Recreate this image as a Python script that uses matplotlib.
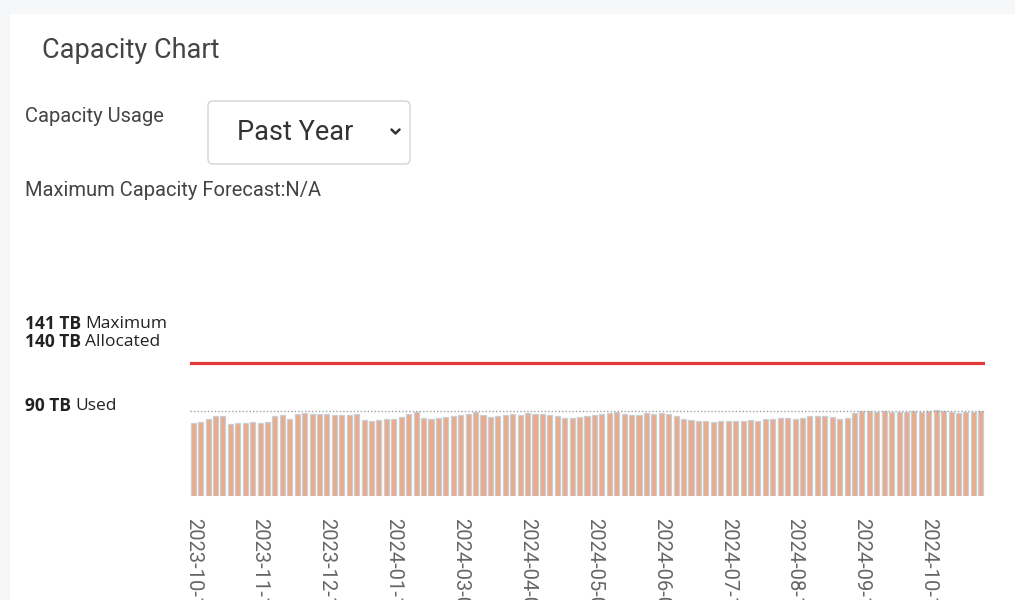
import matplotlib
matplotlib.use('Agg')
import matplotlib.pyplot as plt
from matplotlib.patches import FancyBboxPatch, Rectangle
from matplotlib.lines import Line2D

# usage per sample (TB)
used_tb = [76.8, 77.9, 81.1, 84.2, 84.2, 75.8, 76.8, 76.8, 77.9, 76.8,
           77.9, 84.2, 85.3, 81.1, 86.3, 87.4, 86.3, 86.3, 86.3, 85.3,
           85.3, 85.3, 86.3, 80.0, 78.9, 80.0, 81.1, 81.1, 83.2, 86.3,
           88.4, 82.1, 81.1, 82.1, 83.2, 84.2, 85.3, 86.3, 88.4, 85.3,
           83.2, 84.2, 85.3, 86.3, 85.3, 87.4, 86.3, 86.3, 85.3, 84.2,
           82.1, 82.1, 83.2, 84.2, 85.3, 86.3, 87.4, 88.4, 86.3, 85.3,
           85.3, 87.4, 86.3, 87.4, 86.3, 84.2, 81.1, 80.0, 78.9, 78.9,
           77.9, 78.9, 78.9, 78.9, 78.9, 80.0, 78.9, 81.1, 81.1, 82.1,
           82.1, 81.1, 82.1, 84.2, 84.2, 84.2, 83.2, 81.1, 82.1, 87.4,
           89.5, 89.5, 88.4, 89.5, 88.4, 88.4, 88.4, 89.5, 88.4, 89.5,
           90.5, 89.5, 88.4, 87.4, 88.4, 88.4, 89.5]
allocated_tb = 140
maximum_tb = 141
used_now_tb = 90
tick_every = 9
tick_labels = ['2023-10-13', '2023-11-14', '2023-12-16', '2024-01-17',
               '2024-03-04', '2024-04-05', '2024-05-07', '2024-06-08',
               '2024-07-10', '2024-08-11', '2024-09-12', '2024-10-14']

W, H = 1015, 600
fig = plt.figure(figsize=(W / 100, H / 100), dpi=100, facecolor='#f6f7f8')

# page overlay in pixel coordinates
ui = fig.add_axes([0, 0, 1, 1])
ui.set_xlim(0, W)
ui.set_ylim(H, 0)
ui.axis('off')
ui.add_patch(Rectangle((10, 14), W, H, facecolor='white', edgecolor='none'))

ui.text(42, 51, 'Capacity Chart', fontsize=19.5, family='Roboto', color='#444444',
        ha='left', va='center')
ui.text(25, 117, 'Capacity Usage', fontsize=14.5, family='Roboto', color='#444444',
        ha='left', va='center')
ui.add_patch(FancyBboxPatch((208, 101), 202, 63, boxstyle='round,pad=0,rounding_size=5',
                            facecolor='white', edgecolor='#d4d4d4', linewidth=1))
ui.text(237, 133, 'Past Year', fontsize=19.5, family='Roboto', color='#333333',
        ha='left', va='center')
ui.add_line(Line2D([391.5, 395.5, 399.5], [129.5, 133.5, 129.5], color='#333333',
                   linewidth=1.8, solid_capstyle='round'))
ui.text(25, 190, 'Maximum Capacity Forecast:N/A', fontsize=14.5, family='Roboto',
        color='#444444', ha='left', va='center')

fig.canvas.draw()
renderer = fig.canvas.get_renderer()


def label(y, num, word):
    t = ui.text(25, y, num, fontsize=12.5, family='Open Sans', fontweight='bold',
                color='#222222', ha='left', va='center')
    bb = t.get_window_extent(renderer=renderer)
    ui.text(bb.x1 + 4, y, word, fontsize=12.5, family='Open Sans', color='#222222',
            ha='left', va='center')


label(324, f'{maximum_tb} TB', 'Maximum')
label(342, f'{allocated_tb} TB', 'Allocated')
label(406, f'{used_now_tb} TB', 'Used')

# chart area
n = len(used_tb)
step = 7.43
left_px, base_px, top_px = 189.5, 496, 340
ax = fig.add_axes([left_px / W, 1 - base_px / H, n * step / W, (base_px - top_px) / H])
ax.set_facecolor('none')
x = list(range(n))
ax.bar(x, used_tb, width=0.68, color='#eaab8c', edgecolor='#c8d0d5', linewidth=0.9)
ax.axhline(allocated_tb, color='#e23a3a', linewidth=2.3)
ax.axhline(used_now_tb, color='#a0a0a0', linewidth=1, linestyle=(0, (1, 1.5)))
ax.set_xlim(-0.5, n - 0.5)
ax.set_ylim(0, (base_px - top_px) / 0.95)
for s in ax.spines.values():
    s.set_visible(False)
ax.set_yticks([])
ax.set_xticks(x[::tick_every])
ax.set_xticklabels(tick_labels, rotation=-90, fontsize=14.5, family='Roboto', color='#666666')
ax.tick_params(axis='x', length=0, pad=16)

fig.savefig('out.png', dpi=100, facecolor=fig.get_facecolor())
